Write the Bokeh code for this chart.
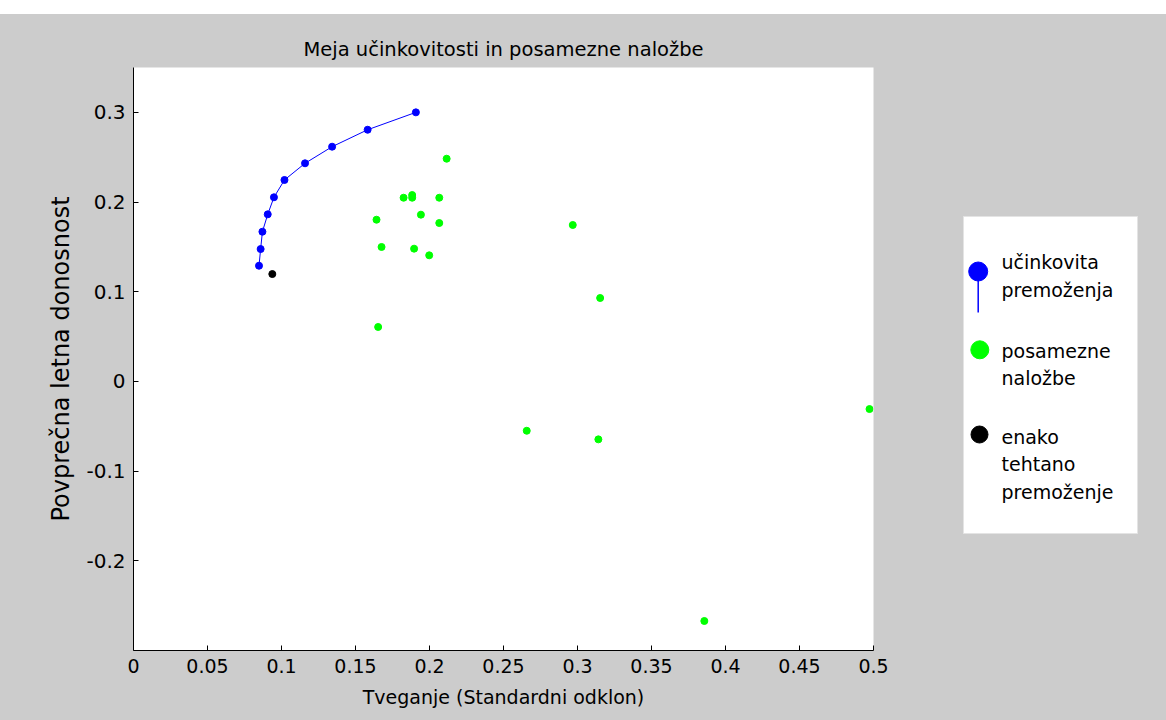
from bokeh.plotting import figure
from bokeh.models import Range1d, FixedTicker, CustomJSTickFormatter, Spacer
from bokeh.layouts import row, column
from bokeh.core.properties import value
from bokeh.embed import file_html
from bokeh.resources import INLINE

# ---- data ----
eff_risk = [0.0848, 0.0859, 0.0871, 0.0907, 0.0949, 0.1020, 0.1159, 0.1342, 0.1582, 0.1908]
eff_ret = [0.1290, 0.1476, 0.1669, 0.1863, 0.2053, 0.2246, 0.2432, 0.2617, 0.2806, 0.3000]

asset_risk = [0.2116, 0.1825, 0.1883, 0.1883, 0.2066, 0.1942, 0.1642, 0.2066, 0.1676,
              0.1896, 0.1998, 0.1653, 0.2968, 0.3153, 0.2657, 0.3141, 0.4973, 0.3857]
asset_ret = [0.2483, 0.2048, 0.2078, 0.2048, 0.2048, 0.1859, 0.1803, 0.1766, 0.1499,
             0.1480, 0.1406, 0.0607, 0.1744, 0.0930, -0.0550, -0.0646, -0.0308, -0.2671]

eq_risk = [0.0938]
eq_ret = [0.1197]

x_ticks = [0, 0.05, 0.1, 0.15, 0.2, 0.25, 0.3, 0.35, 0.4, 0.45, 0.5]
y_ticks = [-0.2, -0.1, 0, 0.1, 0.2, 0.3]

title_text = "Meja učinkovitosti in posamezne naložbe"
x_label = "Tveganje (Standardni odklon)"
y_label = "Povprečna letna donosnost"
legend_labels = [["učinkovita", "premoženja"], ["posamezne", "naložbe"],
                 ["enako", "tehtano", "premoženje"]]

# ---- style ----
FONT = "DejaVu Sans"
GRAY = "#cccccc"
BLUE = "#0000ff"
GREEN = "#00ff00"
BLACK = "#000000"

MAIN_W, FIG_H = 953, 706
BORDER_TOP, BORDER_BOTTOM = 53, 70

p = figure(width=MAIN_W, height=FIG_H, output_backend="svg", toolbar_location=None,
           x_range=Range1d(0, 0.5), y_range=Range1d(-0.3, 0.35),
           min_border_left=133, min_border_right=80, min_border_top=BORDER_TOP,
           min_border_bottom=BORDER_BOTTOM, title=title_text)
p.border_fill_color = GRAY
p.background_fill_color = "white"
p.outline_line_color = None
p.grid.visible = False

p.title.text_font = FONT
p.title.text_font_size = "19.5px"
p.title.text_font_style = "normal"
p.title.text_color = BLACK
p.title.align = "center"
p.title.standoff = 14

fmt = CustomJSTickFormatter(code="return String(tick);")
for ax in (p.xaxis[0], p.yaxis[0]):
    ax.formatter = fmt
    ax.major_tick_in = 5
    ax.major_tick_out = 0
    ax.minor_tick_in = 0
    ax.minor_tick_out = 0
    ax.axis_line_color = BLACK
    ax.major_tick_line_color = BLACK
    ax.major_label_text_font = FONT
    ax.major_label_text_color = BLACK
    ax.axis_label_text_font = FONT
    ax.axis_label_text_font_style = "normal"
    ax.axis_label_text_color = BLACK

p.xaxis.ticker = FixedTicker(ticks=x_ticks)
p.yaxis.ticker = FixedTicker(ticks=y_ticks)
p.xaxis.axis_label = x_label
p.yaxis.axis_label = y_label
p.xaxis.major_label_text_font_size = "19px"
p.yaxis.major_label_text_font_size = "20px"
p.xaxis.axis_label_text_font_size = "19px"
p.yaxis.axis_label_text_font_size = "24px"
p.xaxis.major_label_standoff = 8
p.yaxis.major_label_standoff = 8
p.xaxis.axis_label_standoff = 10
p.yaxis.axis_label_standoff = 8

p.line(eff_risk, eff_ret, line_color=BLUE, line_width=1)
p.scatter(eff_risk, eff_ret, size=7, fill_color=BLUE, line_color=BLUE)
p.scatter(asset_risk, asset_ret, size=7, fill_color=GREEN, line_color=GREEN)
p.scatter(eq_risk, eq_ret, size=7, fill_color=BLACK, line_color=BLACK)

# ---- legend panel (pixel-like coordinates inside a gray panel) ----
LEG_W, LEG_H = 213, 583
leg = figure(width=LEG_W, height=FIG_H, output_backend="svg", toolbar_location=None,
             x_range=Range1d(0, LEG_W), y_range=Range1d(LEG_H, 0),
             x_axis_type=None, y_axis_type=None,
             min_border_left=0, min_border_right=0, min_border_top=BORDER_TOP,
             min_border_bottom=BORDER_BOTTOM)
leg.border_fill_color = GRAY
leg.background_fill_color = GRAY
leg.outline_line_color = None
leg.grid.visible = False

box = dict(left=10, right=184, top=149, bottom=466)
marker_x = [24.7, 26.3, 26]
marker_y = [204, 282.3, 367]
marker_sizes = [19, 18, 17]
marker_colors = [BLUE, GREEN, BLACK]
stem_len = 41
text_x = 48
text_y_starts = [194.7, 283, 369]
line_gap = 27.8

leg.quad(left=[box["left"]], right=[box["right"]], top=[box["top"]], bottom=[box["bottom"]],
         fill_color="white", line_color="#e4e4e4", line_width=1)
leg.segment(x0=[marker_x[0]], y0=[marker_y[0]], x1=[marker_x[0]], y1=[marker_y[0] + stem_len],
            line_color=BLUE, line_width=1.5)
leg.scatter(marker_x, marker_y, size=marker_sizes, fill_color=marker_colors,
            line_color=marker_colors)

tx, ty, tt = [], [], []
for start, lines in zip(text_y_starts, legend_labels):
    for i, t in enumerate(lines):
        tx.append(text_x)
        ty.append(start + i * line_gap)
        tt.append(t)
leg.text(x=tx, y=ty, text=tt, text_font=value(FONT), text_font_size="19px",
         text_baseline="middle", text_align="left", text_color=BLACK)

panel = row(p, leg, spacing=0, styles={"background-color": GRAY})
layout = column(Spacer(width=MAIN_W + LEG_W, height=14), panel, spacing=0)

open("out.html", "w").write(file_html(layout, INLINE))
